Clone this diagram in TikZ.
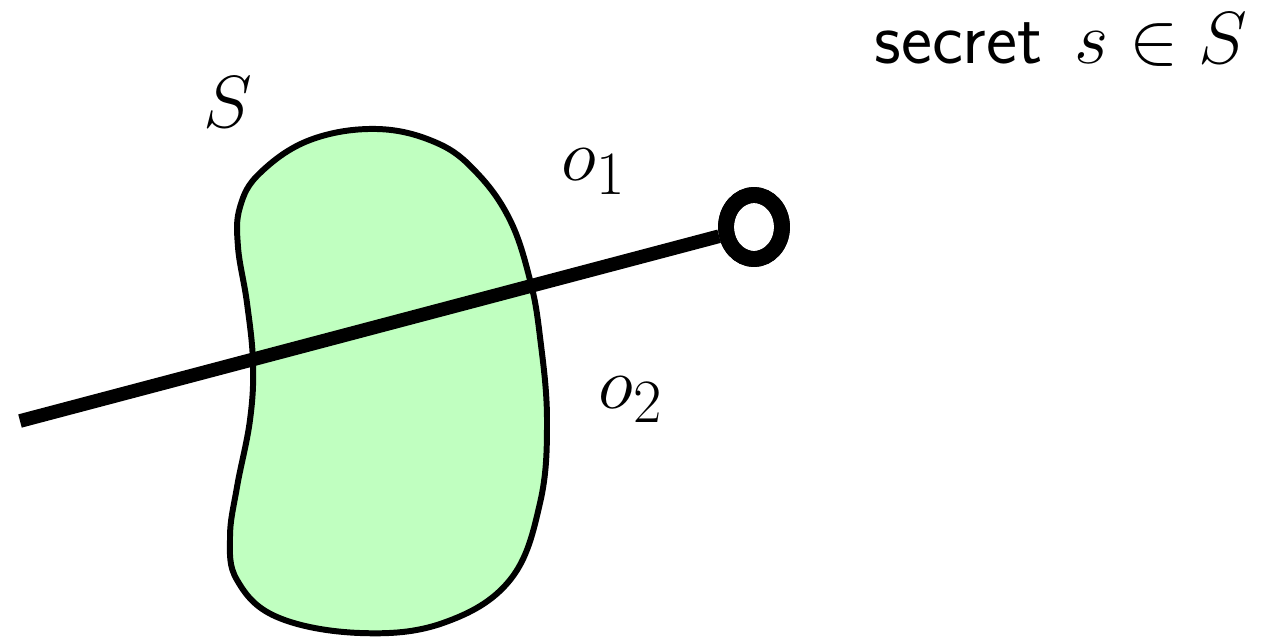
\documentclass[tikz,border=0pt]{standalone}
\usepackage{graphicx}
\usetikzlibrary{shapes.geometric}
\definecolor{blobgreen}{HTML}{C0FFC0}
\newcommand{\bigtxt}[1]{\scalebox{1.69}{\Huge #1}}
\tikzset{
  blob/.style={draw=black, fill=blobgreen, line width=3.4pt},
  probe/.style={line width=7.8pt},
  ringend/.style={draw, ellipse, line width=9pt, inner sep=0pt, minimum width=1.12cm, minimum height=1.28cm},
  lbl/.style={inner sep=0pt}
}
\begin{document}
\begin{tikzpicture}[x=0.02cm, y=-0.02cm]
\useasboundingbox (0,0) rectangle (1263,639);
\draw[blob] plot[smooth cycle, tension=0.65] coordinates {
 (377,129) (310,140) (260,173) (240,207) (238,247) (247,303) (253,363)
 (250,420) (237,487) (230,537) (237,580) (277,617) (360,633) (443,623)
 (510,580) (540,503) (547,420) (540,337) (530,280) (510,220) (477,173) (437,143)};
\coordinate (start) at (20,421);
\node[ringend] (ring) at (754,227) {};
\draw[probe] (start) -- (ring);
\node[ringend] at (754,227) {};
\node[lbl, anchor=base] (Slbl) at (228,127) {\bigtxt{$S$}};
\node[lbl, anchor=base] (o1) at (594,180) {\bigtxt{$o_1$}};
\node[lbl, anchor=base] (o2) at (631,408) {\bigtxt{$o_2$}};
\node[lbl, anchor=base east] (secret) at (1248,63) {\bigtxt{\sffamily secret\ \hspace{0.12em}$s\in S$}};
\end{tikzpicture}
\end{document}
